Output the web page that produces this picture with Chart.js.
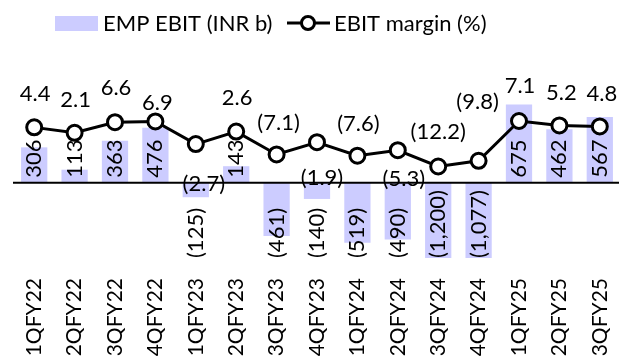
<!DOCTYPE html>
<html>
<head>
<meta charset="utf-8">
<script src="https://cdn.jsdelivr.net/npm/chart.js@4.4.1/dist/chart.umd.min.js"></script>
<style>
  html, body { margin: 0; padding: 0; background: #fff; }
  #wrap { width: 635px; height: 364px; position: relative; }
</style>
</head>
<body>
<div id="wrap"><canvas id="chart"></canvas></div>
<script>
const quarters = ['1QFY22', '2QFY22', '3QFY22', '4QFY22', '1QFY23', '2QFY23', '3QFY23', '4QFY23',
  '1QFY24', '2QFY24', '3QFY24', '4QFY24', '1QFY25', '2QFY25', '3QFY25'];
const empEbit = [306, 113, 363, 476, -125, 143, -461, -140, -519, -490, -1200, -1077, 675, 462, 567];
const ebitMargin = [4.4, 2.1, 6.6, 6.9, -2.7, 2.6, -7.1, -1.9, -7.6, -5.3, -12.2, -9.8, 7.1, 5.2, 4.8];

// margin labels were moved by hand in the source, offsets in px from each point
const marginLabelShift = [[1, -33], [1, -33], [1, -34], [2, -19], [8, 40], [1, -34], [2, -32], [5, 36],
  [1, -32], [6, 29], [0, -35], [-1, -59], [1, -35], [2, -33], [2, -33]];

const FONT = '22px Lato';
const TICK_FONT = '21px Lato';
const BAR_COLOR = 'rgb(204,204,255)';

const fmt = (v, d) => {
  const s = Math.abs(v).toLocaleString('en-US', { minimumFractionDigits: d, maximumFractionDigits: d });
  return v < 0 ? '(' + s + ')' : s;
};

const labelPlugin = {
  id: 'labels',
  afterDatasetDraw(chart, args) {
    if (args.index !== 0) return;
    // axis line at zero, drawn over the bars
    const { ctx, chartArea } = chart;
    const y0 = chart.scales.y.getPixelForValue(0);
    ctx.save();
    ctx.strokeStyle = '#000';
    ctx.lineWidth = 2;
    ctx.beginPath();
    ctx.moveTo(chartArea.left - 1, y0);
    ctx.lineTo(chartArea.right - 1, y0);
    ctx.stroke();
    ctx.restore();
  },
  afterDatasetsDraw(chart) {
    const { ctx, chartArea } = chart;
    const y0 = chart.scales.y.getPixelForValue(0);
    ctx.save();
    ctx.font = FONT;
    ctx.fillStyle = '#000';

    chart.getDatasetMeta(0).data.forEach((el, i) => {
      const v = empEbit[i];
      ctx.save();
      ctx.translate(el.x, v >= 0 ? y0 - 5 : chartArea.bottom);
      ctx.rotate(-Math.PI / 2);
      ctx.textAlign = 'left';
      ctx.textBaseline = 'middle';
      ctx.fillText(fmt(v, 0), 0, 0);
      ctx.restore();
    });

    ctx.textAlign = 'center';
    ctx.textBaseline = 'middle';
    chart.getDatasetMeta(1).data.forEach((el, i) => {
      const [dx, dy] = marginLabelShift[i];
      ctx.fillText(fmt(ebitMargin[i], 1), el.x + dx, el.y + dy);
    });

    // category labels, written upward, ending just under the plot
    const xs = chart.scales.x;
    ctx.font = TICK_FONT;
    quarters.forEach((q, i) => {
      ctx.save();
      ctx.translate(xs.getPixelForTick(i), chartArea.bottom + 20);
      ctx.rotate(-Math.PI / 2);
      ctx.textAlign = 'right';
      ctx.textBaseline = 'middle';
      ctx.fillText(q, 0, 0);
      ctx.restore();
    });
    ctx.restore();
  },
  afterDraw(chart) {
    const ctx = chart.ctx;
    ctx.save();
    ctx.font = FONT;
    ctx.textBaseline = 'middle';
    ctx.fillStyle = BAR_COLOR;
    ctx.fillRect(55, 16, 43, 15);
    ctx.fillStyle = '#000';
    ctx.fillText('EMP EBIT (INR b)', 103, 24);

    ctx.strokeStyle = '#000';
    ctx.lineWidth = 3;
    ctx.beginPath();
    ctx.moveTo(287, 23);
    ctx.lineTo(330, 23);
    ctx.stroke();
    ctx.beginPath();
    ctx.arc(308, 23, 6.5, 0, Math.PI * 2);
    ctx.fillStyle = '#fff';
    ctx.fill();
    ctx.stroke();
    ctx.fillStyle = '#000';
    ctx.fillText('EBIT margin (%)', 334, 24);
    ctx.restore();
  }
};

const data = {
  labels: quarters,
  datasets: [{
    type: 'bar',
    label: 'EMP EBIT (INR b)',
    data: empEbit,
    backgroundColor: BAR_COLOR,
    borderWidth: 0,
    barPercentage: 0.65,
    categoryPercentage: 1,
    yAxisID: 'y',
    order: 1
  }, {
    type: 'line',
    label: 'EBIT margin (%)',
    data: ebitMargin,
    borderColor: '#000',
    borderWidth: 3,
    pointRadius: 7.5,
    pointBorderWidth: 3,
    pointBackgroundColor: '#fff',
    pointBorderColor: '#000',
    tension: 0,
    yAxisID: 'y1',
    order: 0
  }]
};

const config = {
  data: data,
  options: {
    responsive: true,
    maintainAspectRatio: false,
    animation: false,
    layout: { padding: { top: 67, left: 14, right: 15, bottom: 4 } },
    plugins: {
      legend: { display: false },
      tooltip: { enabled: false }
    },
    scales: {
      x: {
        offset: true,
        grid: { display: false },
        border: { display: false },
        ticks: { display: false },
        afterFit: s => { s.height = 102; }
      },
      y: { display: false, min: -650, max: 1000 },
      y1: { display: false, min: -51, max: 30 }
    }
  },
  plugins: [labelPlugin]
};

document.fonts.load(FONT).then(() => {
  const myChart = new Chart(document.getElementById('chart'), config);
});
</script>
</body>
</html>
